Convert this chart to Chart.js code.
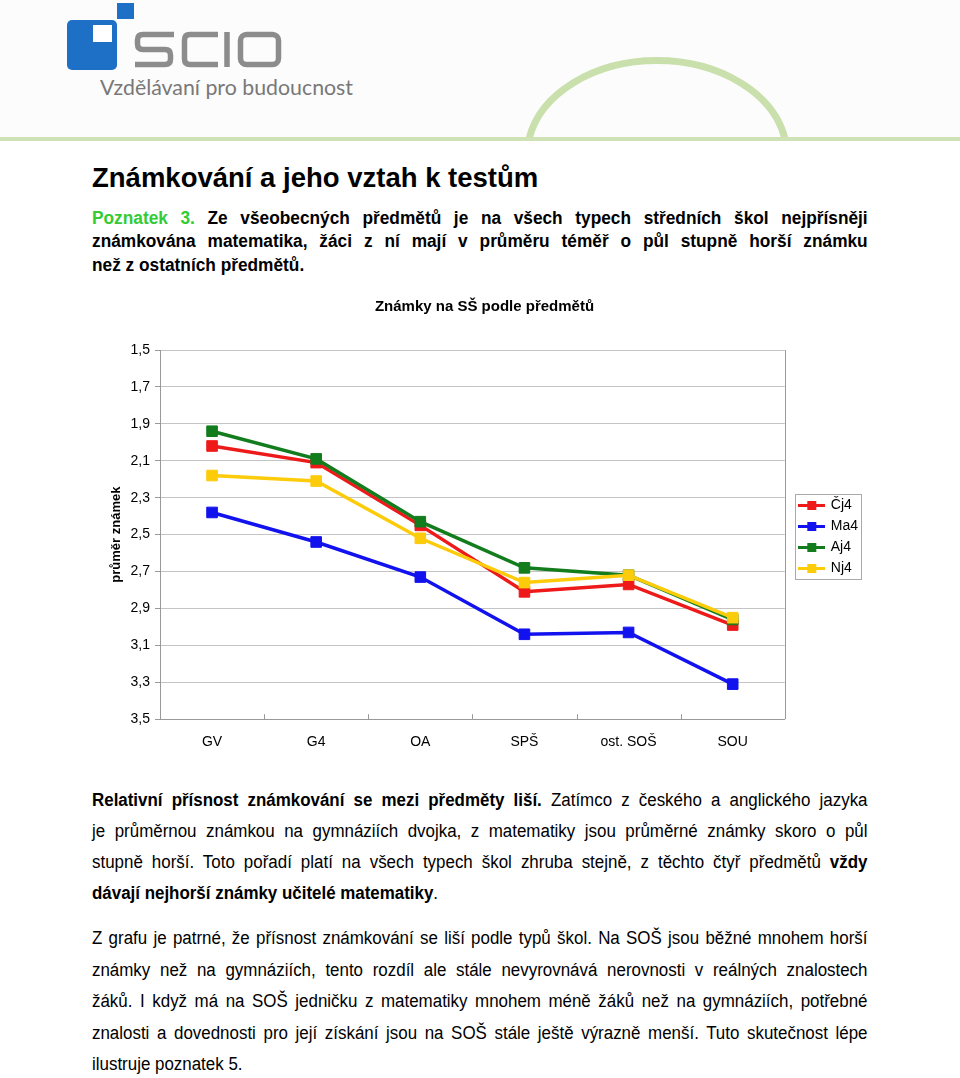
<!DOCTYPE html>
<html lang="cs">
<head>
<meta charset="utf-8">
<title>Známky na SŠ podle předmětů</title>
<script src="https://cdn.jsdelivr.net/npm/chart.js@4.4.0/dist/chart.umd.min.js"></script>
<style>
  body { margin: 0; width: 960px; height: 1078px; background: #fff; position: relative; overflow: hidden;
         font-family: "Liberation Sans", Arial, sans-serif; color: #000; }
  #header { position: absolute; left: 0; top: 0; }
  h1 { position: absolute; left: 92px; top: 164px; margin: 0; font-size: 27.5px; line-height: 27px; font-weight: bold; white-space: nowrap; }
  .block { position: absolute; left: 92px; width: 776px; }
  .ln { transform-origin: 0 0; text-align: justify; text-align-last: justify; }
  .ln.end { text-align-last: left; }
  .poz { top: 206.5px; }
  .poz .ln { font-size: 18px; font-weight: bold; line-height: 23.5px; height: 23.5px; width: 808px; transform: scaleX(0.96); }
  .green { color: #33cc33; }
  .txt .ln { font-size: 18px; line-height: 31px; height: 31px; width: 825px; transform: scaleX(0.94); }
  .p1 { top: 785px; }
  .p2 { top: 923px; }
  .p2 .ln { line-height: 31.5px; height: 31.5px; }
  #chartBox { position: absolute; left: 92px; top: 290px; width: 776px; height: 485px; }
</style>
</head>
<body>

<svg id="header" width="960" height="145">
  <rect x="0" y="0" width="960" height="137" fill="#fcfcfc"/>
  <path d="M 529 139 A 130 95 0 0 1 785 139" fill="none" stroke="#c9e0ac" stroke-width="7"/>
  <rect x="0" y="137" width="960" height="4" fill="#cfe2b6"/>
  <!-- logo -->
  <rect x="67" y="20" width="50" height="50" rx="5" fill="#1e6fc6"/>
  <rect x="93" y="25" width="19" height="17" fill="#fff"/>
  <rect x="117" y="3" width="17" height="16" fill="#1e6fc6"/>
  <g fill="none" stroke="#8c8c8c" stroke-width="5.5">
    <path d="M 174 34.5 H 143 Q 137.5 34.5 137.5 40 V 44 Q 137.5 49.5 143 49.5 H 165 Q 170.5 49.5 170.5 55 V 59 Q 170.5 64.5 165 64.5 H 135"/>
    <path d="M 218 34.5 H 190 Q 184.5 34.5 184.5 40 V 59 Q 184.5 64.5 190 64.5 H 218"/>
    <path d="M 227 32 V 67"/>
    <rect x="240.5" y="34.5" width="38" height="30" rx="6"/>
  </g>
  <text x="100" y="95" font-family="Lato, 'Open Sans', sans-serif" font-size="21" fill="#787878"
        textLength="253" lengthAdjust="spacingAndGlyphs">Vzdělávaní pro budoucnost</text>
</svg>

<h1>Známkování a jeho vztah k testům</h1>

<div class="block poz">
  <div class="ln"><span class="green">Poznatek 3.</span> Ze všeobecných předmětů je na všech typech středních škol nejpřísněji</div>
  <div class="ln">známkována matematika, žáci z ní mají v průměru téměř o půl stupně horší známku</div>
  <div class="ln end">než z ostatních předmětů.</div>
</div>

<div id="chartBox"><canvas id="gradesChart"></canvas></div>

<div class="block txt p1">
  <div class="ln"><b>Relativní přísnost známkování se mezi předměty liší.</b> Zatímco z českého a anglického jazyka</div>
  <div class="ln">je průměrnou známkou na gymnáziích dvojka, z matematiky jsou průměrné známky skoro o půl</div>
  <div class="ln">stupně horší. Toto pořadí platí na všech typech škol zhruba stejně, z těchto čtyř předmětů <b>vždy</b></div>
  <div class="ln end"><b>dávají nejhorší známky učitelé matematiky</b>.</div>
</div>

<div class="block txt p2">
  <div class="ln">Z grafu je patrné, že přísnost známkování se liší podle typů škol. Na SOŠ jsou běžné mnohem horší</div>
  <div class="ln">známky než na gymnáziích, tento rozdíl ale stále nevyrovnává nerovnosti v reálných znalostech</div>
  <div class="ln">žáků. I když má na SOŠ jedničku z matematiky mnohem méně žáků než na gymnáziích, potřebné</div>
  <div class="ln">znalosti a dovednosti pro její získání jsou na SOŠ stále ještě výrazně menší. Tuto skutečnost lépe</div>
  <div class="ln end">ilustruje poznatek 5.</div>
</div>

<script>
// typy škol
const categories = ['GV', 'G4', 'OA', 'SPŠ', 'ost. SOŠ', 'SOU'];

// průměrné známky podle předmětů
const cj4 = [2.02, 2.11, 2.45, 2.81, 2.77, 2.99];
const ma4 = [2.38, 2.54, 2.73, 3.04, 3.03, 3.31];
const aj4 = [1.94, 2.09, 2.43, 2.68, 2.72, 2.96];
const nj4 = [2.18, 2.21, 2.52, 2.76, 2.72, 2.95];

const seriesNames = ['Čj4', 'Ma4', 'Aj4', 'Nj4'];
const yTickValues = [1.5, 1.7, 1.9, 2.1, 2.3, 2.5, 2.7, 2.9, 3.1, 3.3, 3.5];
const yTickLabels = ['1,5', '1,7', '1,9', '2,1', '2,3', '2,5', '2,7', '2,9', '3,1', '3,3', '3,5'];

const colors = ['#ee1a1a', '#1212ee', '#137d1e', '#fccb0a'];

// řádky textu, které by přetekly, se ještě trochu zúží
document.querySelectorAll('.ln').forEach(el => {
    const prevAlign = el.style.textAlignLast;
    el.style.textAlignLast = 'left';
    el.style.whiteSpace = 'nowrap';
    const r = document.createRange();
    r.selectNodeContents(el);
    const w = r.getBoundingClientRect().width;
    el.style.whiteSpace = '';
    el.style.textAlignLast = prevAlign;
    if (w > 774) {
        const m = getComputedStyle(el).transform.match(/matrix\(([^,]+)/);
        const s = m ? parseFloat(m[1]) : 1;
        const ns = s * 773 / w;
        el.style.transform = 'scaleX(' + ns + ')';
        el.style.width = (776 / ns) + 'px';
    }
});

Chart.defaults.font.family = '"Liberation Sans", Arial, sans-serif';
Chart.defaults.color = '#000';

function legendIcon(color) {
    const c = document.createElement('canvas');
    c.width = 27; c.height = 11;
    const g = c.getContext('2d');
    g.strokeStyle = color;
    g.lineWidth = 3;
    g.beginPath(); g.moveTo(0, 5.5); g.lineTo(27, 5.5); g.stroke();
    g.fillStyle = color;
    g.fillRect(9, 1, 9, 9);
    return c;
}

function makeSeries(label, data, color, order) {
    return {
        label, data, order,
        borderColor: color,
        backgroundColor: color,
        borderWidth: 3.5,
        tension: 0,
        pointStyle: 'rect',
        pointRadius: 7.5,
        pointHoverRadius: 7.5,
        pointBorderWidth: 1,
        pointBackgroundColor: color
    };
}

// rámeček grafu, vnitřní značky na ose x a rámeček legendy
const chartFrame = {
    id: 'chartFrame',
    afterLayout(chart) {
        const lg = chart.legend;
        lg.left += 8; lg.right += 8;
        lg.top += 9; lg.bottom += 9;
    },
    afterDraw(chart) {
        const { ctx, chartArea: a, scales: { x } } = chart;
        ctx.save();
        ctx.strokeStyle = '#999';
        ctx.lineWidth = 1;
        ctx.beginPath();
        ctx.moveTo(Math.round(a.right) + 0.5, a.top);
        ctx.lineTo(Math.round(a.right) + 0.5, a.bottom);
        for (let i = 1; i < categories.length; i++) {
            const px = Math.round((x.getPixelForValue(i - 1) + x.getPixelForValue(i)) / 2) + 0.5;
            ctx.moveTo(px, a.bottom);
            ctx.lineTo(px, a.bottom - 5);
        }
        ctx.stroke();

        const boxes = chart.legend.legendHitBoxes;
        if (boxes && boxes.length) {
            const l = Math.min(...boxes.map(b => b.left));
            const r = Math.max(...boxes.map(b => b.left + b.width));
            const t = Math.min(...boxes.map(b => b.top));
            const btm = Math.max(...boxes.map(b => b.top + b.height));
            ctx.strokeStyle = '#aaa';
            ctx.strokeRect(Math.round(l - 5) + 0.5, Math.round(t - 5) + 0.5, Math.round(r - l + 8), Math.round(btm - t + 8));
        }
        ctx.restore();
    }
};

new Chart(document.getElementById('gradesChart'), {
    type: 'line',
    data: {
        labels: categories,
        datasets: [
            makeSeries(seriesNames[0], cj4, colors[0], 3),
            makeSeries(seriesNames[1], ma4, colors[1], 2),
            makeSeries(seriesNames[2], aj4, colors[2], 1),
            makeSeries(seriesNames[3], nj4, colors[3], 0)
        ]
    },
    options: {
        responsive: true,
        maintainAspectRatio: false,
        animation: false,
        events: [],
        layout: { padding: { left: 17, right: 8, top: 0, bottom: 9 } },
        plugins: {
            title: {
                display: true,
                text: 'Známky na SŠ podle předmětů',
                font: { size: 15, weight: 'bold' },
                color: '#000',
                padding: { top: 8, bottom: 34 }
            },
            legend: {
                position: 'right',
                align: 'center',
                labels: {
                    usePointStyle: true,
                    pointStyleWidth: 24,
                    padding: 7,
                    font: { size: 14 },
                    color: '#000',
                    generateLabels(chart) {
                        return chart.data.datasets.map((ds, i) => ({
                            text: ds.label,
                            pointStyle: legendIcon(ds.borderColor),
                            fillStyle: ds.borderColor,
                            strokeStyle: ds.borderColor,
                            lineWidth: 0,
                            hidden: false,
                            datasetIndex: i
                        }));
                    }
                }
            },
            tooltip: { enabled: false }
        },
        scales: {
            x: {
                offset: true,
                grid: { offset: true, drawOnChartArea: false, drawTicks: false },
                border: { color: '#999' },
                ticks: { padding: 15, font: { size: 14 }, color: '#000' }
            },
            y: {
                reverse: true,
                min: yTickValues[0],
                max: yTickValues[yTickValues.length - 1],
                afterFit(scale) { scale.width = 51; },
                afterBuildTicks(scale) {
                    scale.ticks = yTickValues.map(v => ({ value: v }));
                },
                ticks: {
                    padding: 5,
                    font: { size: 14 },
                    color: '#000',
                    callback: (v) => yTickLabels[yTickValues.findIndex(t => Math.abs(t - v) < 1e-6)]
                },
                grid: { color: '#c4c4c4', tickLength: 5, tickColor: '#999' },
                border: { color: '#999' },
                title: {
                    display: true,
                    text: 'průměr známek',
                    font: { size: 13, weight: 'bold' },
                    color: '#000',
                    padding: 0
                }
            }
        }
    },
    plugins: [chartFrame]
});
</script>
</body>
</html>
